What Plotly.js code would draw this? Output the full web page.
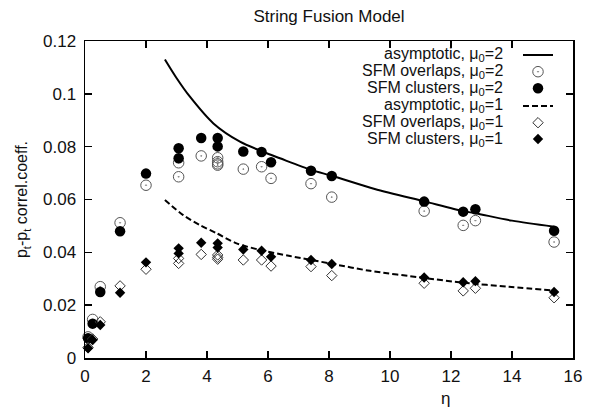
<!DOCTYPE html>
<html>
<head>
<meta charset="utf-8">
<script src="https://cdn.plot.ly/plotly-3.0.1.min.js"></script>
<style>html,body{margin:0;padding:0;background:#fff;}#chart{width:595px;height:408px;}</style>
</head>
<body>
<div id="chart"></div>
<script>
// ---- data ----
const etaClusters2 = [0.1, 0.25, 0.5, 1.15, 2.0, 3.07, 3.07, 3.81, 4.35, 4.35, 5.19, 5.79, 6.1, 7.41, 8.09, 11.12, 12.4, 12.8, 15.38];
const corrClusters2 = [0.0075, 0.013, 0.025, 0.048, 0.0698, 0.0794, 0.0756, 0.0833, 0.0833, 0.0801, 0.0782, 0.078, 0.0741, 0.0709, 0.0689, 0.0592, 0.0554, 0.0563, 0.0482];

const etaOverlaps2 = [0.1, 0.25, 0.5, 1.15, 2.0, 3.07, 3.07, 3.81, 4.35, 4.35, 4.35, 4.35, 5.19, 5.79, 6.1, 7.41, 8.09, 11.12, 12.4, 12.8, 15.38];
const corrOverlaps2 = [0.008, 0.0146, 0.027, 0.0512, 0.0654, 0.0686, 0.0739, 0.0765, 0.0758, 0.0743, 0.0735, 0.073, 0.0715, 0.0724, 0.068, 0.066, 0.0609, 0.0556, 0.0502, 0.052, 0.0439];

const etaClusters1 = [0.1, 0.25, 0.5, 1.15, 2.0, 3.07, 3.07, 3.81, 4.35, 4.35, 5.19, 5.79, 6.1, 7.41, 8.09, 11.12, 12.4, 12.8, 15.38];
const corrClusters1 = [0.0037, 0.0068, 0.0125, 0.0247, 0.0362, 0.0415, 0.0396, 0.0436, 0.0434, 0.0418, 0.0411, 0.0406, 0.0383, 0.0371, 0.0356, 0.0305, 0.0287, 0.0291, 0.025];

const etaOverlaps1 = [0.1, 0.25, 0.5, 1.15, 2.0, 3.07, 3.07, 3.81, 4.35, 4.35, 4.35, 5.19, 5.79, 6.1, 7.41, 8.09, 11.12, 12.4, 12.8, 15.38];
const corrOverlaps1 = [0.004, 0.0072, 0.0137, 0.0273, 0.0336, 0.0377, 0.0358, 0.0392, 0.039, 0.0381, 0.0374, 0.0371, 0.0371, 0.0348, 0.0346, 0.0312, 0.0283, 0.0254, 0.0264, 0.0228];

const etaAsym2 = [2.62, 3.0, 3.44, 4.21, 5.08, 5.96, 6.39, 7.41, 8.09, 9.5, 11.12, 12.4, 12.8, 14.0, 15.38];
const corrAsym2 = [0.113, 0.106, 0.0989, 0.0888, 0.0819, 0.0775, 0.0756, 0.0712, 0.069, 0.064, 0.0593, 0.0556, 0.0548, 0.052, 0.0497];

const etaAsym1 = [2.62, 3.22, 3.77, 4.32, 4.97, 5.74, 6.72, 8.03, 9.34, 11.12, 12.4, 13.9, 15.38];
const corrAsym1 = [0.0598, 0.0541, 0.0503, 0.0472, 0.0434, 0.0409, 0.0386, 0.0358, 0.033, 0.0303, 0.0285, 0.027, 0.0255];

const seriesNames = [
  "asymptotic, μ<sub>0</sub>=2",
  "SFM overlaps, μ<sub>0</sub>=2",
  "SFM clusters, μ<sub>0</sub>=2",
  "asymptotic, μ<sub>0</sub>=1",
  "SFM overlaps, μ<sub>0</sub>=1",
  "SFM clusters, μ<sub>0</sub>=1"
];
const xTicks = [0, 2, 4, 6, 8, 10, 12, 14, 16];
const yTicks = [0, 0.02, 0.04, 0.06, 0.08, 0.1, 0.12];
const yTickText = ["0", "0.02", "0.04", "0.06", "0.08", "0.1", "0.12"];

// ---- traces ----
const font = "Liberation Sans, Arial, sans-serif";
const legendIds = ["legend", "legend2", "legend3", "legend4", "legend5", "legend6"];
const traces = [
  {x: etaAsym2, y: corrAsym2, mode: "lines",
   line: {color: "#000", width: 2, shape: "spline", smoothing: 0.8}},
  {x: etaOverlaps2, y: corrOverlaps2, mode: "markers",
   marker: {symbol: "circle-open-dot", size: 10.5, color: "#555", line: {width: 1, color: "#555"}}},
  {x: etaClusters2, y: corrClusters2, mode: "markers",
   marker: {symbol: "circle", size: 10.5, color: "#000"}},
  {x: etaAsym1, y: corrAsym1, mode: "lines",
   line: {color: "#000", width: 2, dash: "6px,3px", shape: "spline", smoothing: 0.8}},
  {x: etaOverlaps1, y: corrOverlaps1, mode: "markers",
   marker: {symbol: "diamond-open", size: 8, color: "#333", line: {width: 1, color: "#333"}}},
  {x: etaClusters1, y: corrClusters1, mode: "markers",
   marker: {symbol: "diamond", size: 8, color: "#000"}}
].map((t, i) => Object.assign(t, {type: "scatter", name: "", hovertext: seriesNames[i],
   showlegend: true, legend: legendIds[i], cliponaxis: false}));

// legend labels as right-aligned text next to the legend symbols
const L = 85, R = 573, T = 41, B = 358;
const rowY = [55, 71.7, 88.3, 106, 122.7, 139];
const annotations = seriesNames.map((s, i) => ({
  text: s, xref: "paper", yref: "paper",
  x: (505 - L) / (R - L), y: (B - rowY[i]) / (B - T),
  xanchor: "right", yanchor: "middle", showarrow: false,
  font: {family: font, size: 16, color: "#111"}
}));
annotations.push({
  text: "η", xref: "paper", yref: "paper", x: (445 - L) / (R - L), y: 0,
  xanchor: "center", yanchor: "top", yshift: -29, showarrow: false,
  font: {family: font, size: 17, color: "#111"}
});

const axisCommon = {
  showgrid: false, zeroline: false, showline: true, linecolor: "#000", linewidth: 1.5,
  mirror: "ticks", ticks: "inside", ticklen: 7, tickwidth: 1.5, tickcolor: "#000",
  tickfont: {family: font, size: 17, color: "#111"}
};

const layout = {
  width: 595, height: 408,
  paper_bgcolor: "#fff", plot_bgcolor: "#fff",
  margin: {l: L, r: 595 - R, t: T, b: 408 - B},
  title: {text: "String Fusion Model", x: 0.5, xref: "paper", y: 1 - 16 / 408, yref: "container",
          xanchor: "center", yanchor: "middle", font: {family: font, size: 17, color: "#111"}},
  xaxis: Object.assign({}, axisCommon, {range: [0, 16], tickvals: xTicks, ticktext: xTicks.map(String), ticklabelstandoff: 2}),
  yaxis: Object.assign({}, axisCommon, {range: [0, 0.12], tickvals: yTicks, ticktext: yTickText, ticklabelstandoff: 4,
    title: {text: "p<sub>t</sub>-p<sub>t</sub> correl.coeff.", font: {family: font, size: 16, color: "#111"}, standoff: 11}}),
  showlegend: true,
  annotations: annotations
};
legendIds.forEach((id, i) => {
  layout[id] = {x: (518 - L) / (R - L), xanchor: "left", y: (B - rowY[i]) / (B - T), yanchor: "middle",
                bgcolor: "rgba(0,0,0,0)", font: {family: font, size: 11}, itemwidth: 30};
});

Plotly.newPlot("chart", traces, layout, {displayModeBar: false, staticPlot: true});
</script>
</body>
</html>
